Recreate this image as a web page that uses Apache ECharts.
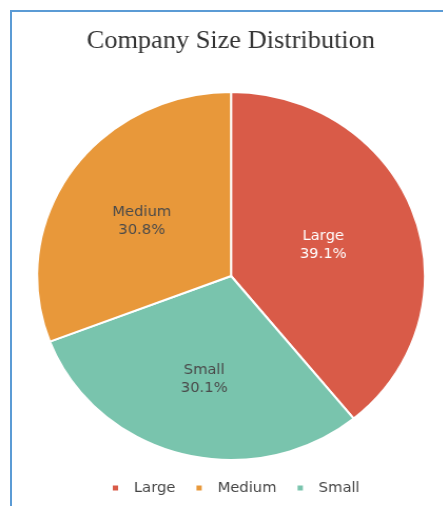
<!DOCTYPE html>
<html>
<head>
<meta charset="utf-8">
<script src="https://cdn.jsdelivr.net/npm/echarts@6/dist/echarts.min.js"></script>
<style>
  html, body { margin: 0; padding: 0; background: #ffffff; overflow: hidden; }
  #frame {
    position: absolute; left: 10px; top: 10px;
    width: 460px; height: 520px;
    border-left: 2px solid #5b9bd5; border-top: 2px solid #5b9bd5;
  }
  /* the chart is drawn slightly narrower and stretched horizontally */
  #chart {
    position: absolute; left: 0; top: 0; width: 438px; height: 506px;
    transform: scaleX(1.054); transform-origin: 0 0;
  }
</style>
</head>
<body>
<div id="frame"></div>
<div id="chart"></div>
<script>
// Company size shares (percent), in drawing order clockwise from 12 o'clock
const sizes = ['Large', 'Small', 'Medium'];
const shares = [39.1, 30.1, 30.8];
const legendOrder = ['Large', 'Medium', 'Small'];
const sliceColors = { Large: '#d95b48', Medium: '#e8983a', Small: '#79c4ad' };
const labelColors = { Large: '#ffffff', Medium: '#4a4a4a', Small: '#4a4a4a' };
// small nudges of each inside label away from the slice midpoint
const labelNudge = { Large: [-2, 1], Medium: [-6.5, -1], Small: [-1, 12] };

const chart = echarts.init(document.getElementById('chart'));
chart.setOption({
  animation: false,
  title: {
    text: 'Company Size Distribution',
    left: 'center',
    top: 24,
    textStyle: { fontFamily: 'Liberation Serif', fontSize: 25, fontWeight: 'normal', color: '#333333' }
  },
  legend: {
    data: legendOrder,
    bottom: 6,
    left: 100,
    icon: 'rect',
    itemWidth: 7,
    itemHeight: 7,
    itemGap: 18,
    textStyle: { fontFamily: 'DejaVu Sans', fontSize: 14, color: '#444444', padding: [0, 0, 0, 9] }
  },
  series: [{
    type: 'pie',
    center: [219.2, 276],
    radius: 184,
    startAngle: 90,
    clockwise: true,
    itemStyle: { borderColor: '#ffffff', borderWidth: 2 },
    label: {
      position: 'inside',
      formatter: p => p.name + '\n' + p.value.toFixed(1) + '%',
      fontFamily: 'DejaVu Sans',
      fontSize: 14,
      lineHeight: 18
    },
    labelLayout: params => {
      const n = labelNudge[sizes[params.dataIndex]];
      return { dx: n[0], dy: n[1] };
    },
    labelLine: { show: false },
    emphasis: { disabled: true },
    data: sizes.map((s, i) => ({
      name: s,
      value: shares[i],
      itemStyle: { color: sliceColors[s] },
      label: { color: labelColors[s] }
    }))
  }]
});
</script>
</body>
</html>
